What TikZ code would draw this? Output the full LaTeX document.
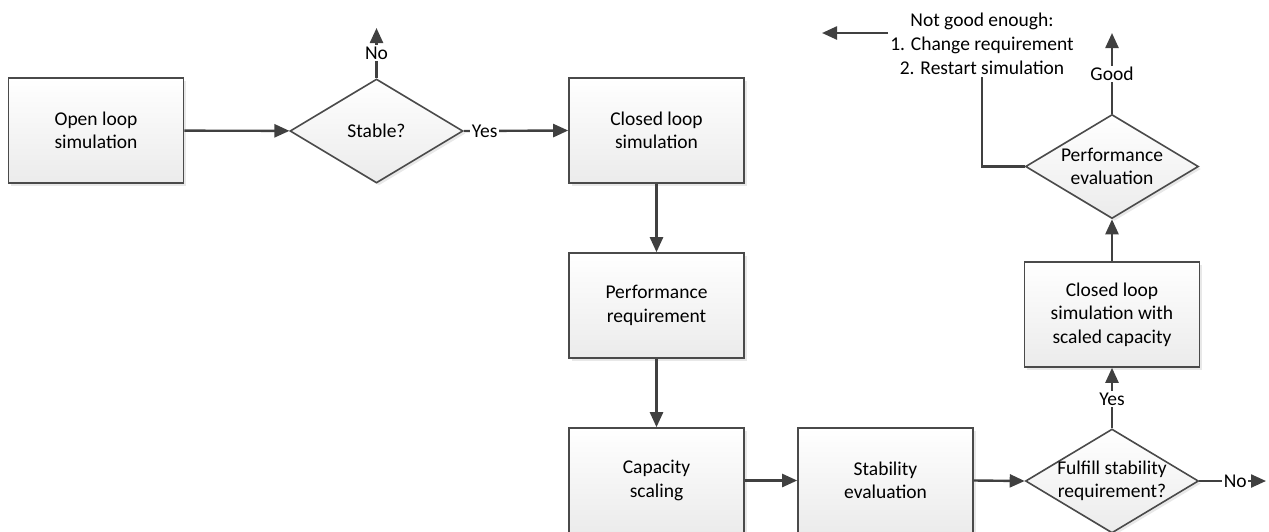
\documentclass[tikz,border=0pt]{standalone}
\usepackage{fontspec}
\setmainfont{Carlito}
\usetikzlibrary{arrows.meta,shapes.geometric,shadows}
\definecolor{edge}{HTML}{4A4A4A}
\definecolor{wire}{HTML}{404040}
\definecolor{shade}{HTML}{EBEBEB}
\tikzset{
  every node/.style={font=\fontsize{19.5}{23.5}\selectfont, text=black},
  procbox/.style={rectangle, draw=edge, line width=1.6pt,
    minimum width=175pt, minimum height=105pt, inner sep=0pt,
    top color=white, bottom color=shade, align=center,
    drop shadow={shadow xshift=2.5pt, shadow yshift=-2.5pt, opacity=0.18, fill=gray}},
  decision/.style={diamond, draw=edge, line width=1.6pt,
    minimum width=173pt, minimum height=104pt, inner sep=0pt,
    top color=white, bottom color=shade,
    drop shadow={shadow xshift=2.5pt, shadow yshift=-2.5pt, opacity=0.18, fill=gray}},
  dtext/.style={align=center, inner sep=0pt},
  flow/.style={draw=wire, line width=2.4pt, -{Triangle[length=15pt,width=13pt]}},
  plain/.style={draw=wire, line width=2.4pt},
  tag/.style={fill=white, inner sep=1.5pt}
}
\begin{document}
\begin{tikzpicture}[x=1pt, y=-1pt]
\useasboundingbox (0,0) rectangle (1269,531);

% left chain
\node[procbox] (open) at (96,130.5) {Open loop\\simulation};
\node[decision] (stable) at (376.5,131) {};
\node[dtext] (stablet) at (stable) {Stable?};
\node[procbox] (closed) at (656.5,130.5) {Closed loop\\simulation};
\node[procbox] (perfreq) at (656.5,305.5) {Performance\\requirement};
\node[procbox] (capscale) at (656.5,480.5) {Capacity\\scaling};
\node[procbox] (stabeval) at (885.5,480.5) {Stability\\evaluation};

% right column
\node[decision] (fulfill) at (1112,481) {};
\node[dtext] (fulfillt) at (fulfill) {Fulfill stability\\requirement?};
\node[procbox] (scaled) at (1112,314.5) {Closed loop\\simulation with\\scaled capacity};
\node[decision] (perfeval) at (1112,166.5) {};
\node[dtext] (perfevalt) at (perfeval) {Performance\\evaluation};

\node[align=center, inner sep=2pt, font=\fontsize{19.5}{24}\selectfont] (notgood) at (982,44)
  {Not good enough:\\1. Change requirement\\2. Restart simulation};

% free ends
\coordinate (stableno) at (376.5,28);
\coordinate (fulfillno) at (1266,481);
\coordinate (goodend) at (1112,33);
\coordinate (backend) at (822,33);

% connectors
\draw[flow] (open) -- (stable);
\draw[flow] (stable.north) -- node[tag, pos=0.5] (nolbl) {No} (stableno);
\draw[flow] (stable.east) -- node[tag, pos=0.2] (yeslbl) {Yes} (closed.west);
\draw[flow] (closed) -- (perfreq);
\draw[flow] (perfreq) -- (capscale);
\draw[flow] (capscale) -- (stabeval);
\draw[flow] (stabeval.east) -- (fulfill.west);
\draw[flow] (fulfill.east) -- node[tag, pos=0.54] (nolbl2) {No} (fulfillno);
\draw[flow] (fulfill.north) -- node[tag, pos=0.48] (yeslbl2) {Yes} (scaled.south);
\draw[flow] (scaled.north) -- (perfeval.south);
\draw[flow] (perfeval.north) -- node[tag, pos=0.49] (goodlbl) {Good} (goodend);
\draw[plain] (perfeval.west) -| (notgood.south);
\draw[flow] (notgood.west |- backend) -- (backend);
\end{tikzpicture}
\end{document}
